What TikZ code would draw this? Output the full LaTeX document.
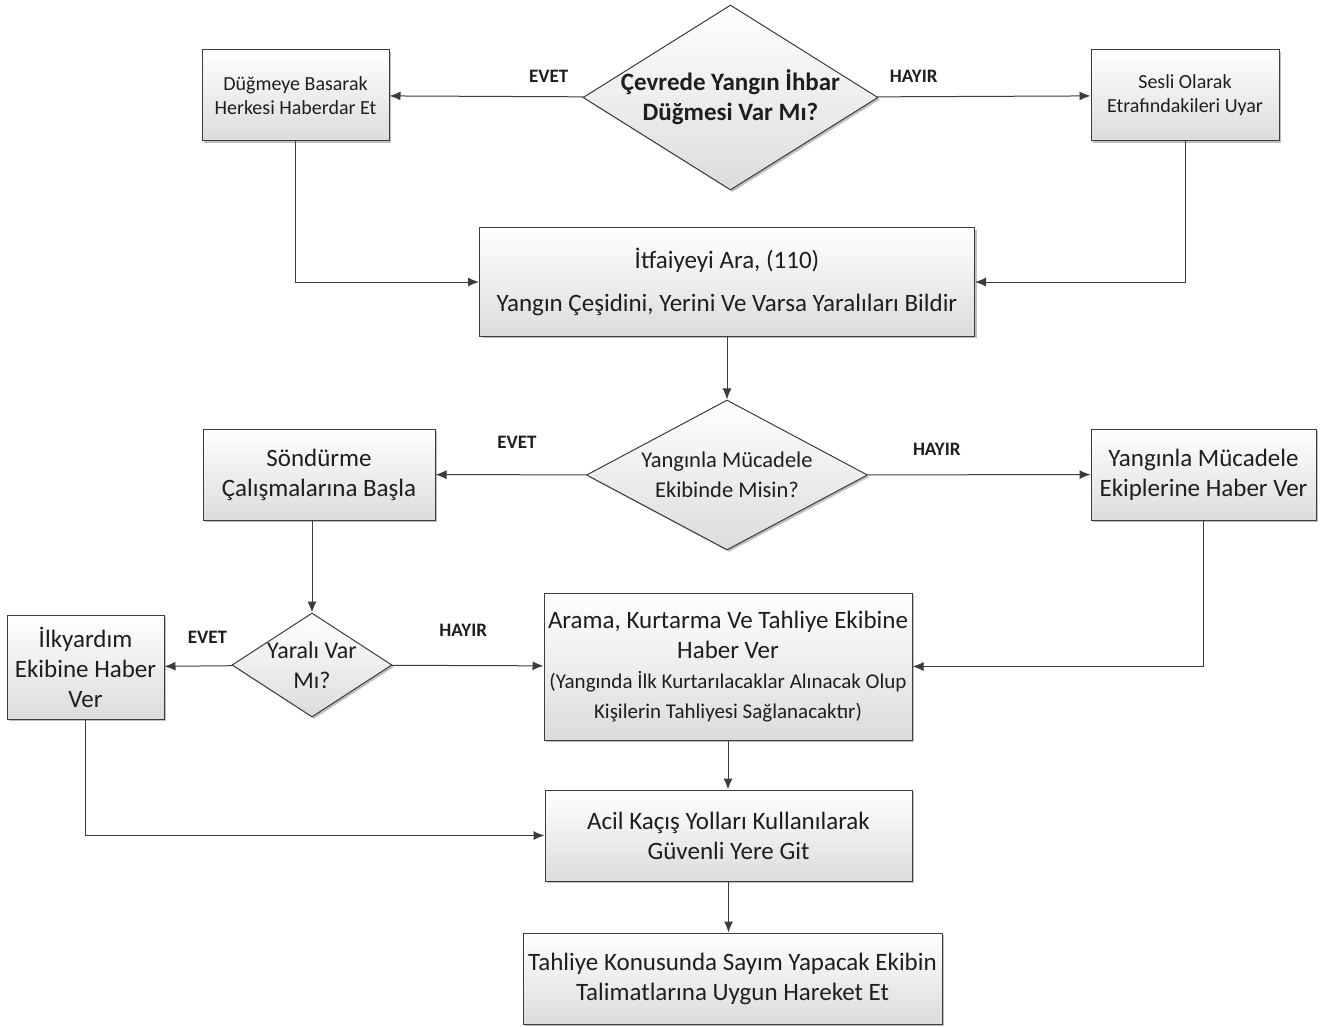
\documentclass[tikz,border=0pt]{standalone}
\usepackage{fontspec}
\setmainfont{Carlito}
\usetikzlibrary{arrows.meta,shapes.geometric,shadows}
\definecolor{flowline}{RGB}{60,60,60}
\definecolor{flowshade}{RGB}{220,220,220}
\definecolor{flowtext}{RGB}{30,30,30}

\begin{document}
\begin{tikzpicture}[
    x=1pt, y=-1pt,
    font=\fontsize{25}{30}\selectfont,
    text=flowtext,
    stage/.style={draw=flowline, line width=1pt, top color=white, bottom color=flowshade,
      align=center, inner sep=0pt,
      drop shadow={shadow xshift=2pt, shadow yshift=-2pt, opacity=0.25, fill=black}},
    query/.style={stage, diamond, inner sep=-4pt},
    answer/.style={font=\fontsize{19}{20}\selectfont\bfseries, inner sep=0pt},
    arrow/.style={-{Latex[length=11pt,width=9pt]}, draw=flowline, line width=1pt}
  ]
    \useasboundingbox (0,0) rectangle (1341,1027);

    % decisions
    \node[query, minimum width=295pt, minimum height=185pt, shape aspect=1.6,
      font=\fontsize{25}{30}\selectfont\bfseries] (alarm) at (730.5,97.5)
      {Çevrede Yangın İhbar\\Düğmesi Var Mı?};
    \node[query, minimum width=281pt, minimum height=150pt, shape aspect=1.87,
      font=\fontsize{22.5}{30}\selectfont] (crew) at (727,475)
      {Yangınla Mücadele\\Ekibinde Misin?};
    \node[query, minimum width=160pt, minimum height=104pt, shape aspect=1.54,
      font=\fontsize{24}{30}\selectfont] (hurt) at (312,665)
      {Yaralı Var\\Mı?};

    % actions
    \node[stage, minimum width=187pt, minimum height=91pt,
      font=\fontsize{20}{24}\selectfont] (press) at (295.5,95.5)
      {Düğmeye Basarak\\Herkesi Haberdar Et};
    \node[stage, minimum width=188pt, minimum height=91pt,
      font=\fontsize{20}{24}\selectfont] (shout) at (1185,95.5)
      {Sesli Olarak\\Etrafındakileri Uyar};
    \node[stage, minimum width=495pt, minimum height=108pt] (call) at (727,282)
      {İtfaiyeyi Ara, (110)\\[13pt]Yangın Çeşidini, Yerini Ve Varsa Yaralıları Bildir};
    \node[stage, minimum width=232pt, minimum height=91pt] (douse) at (319,474.5)
      {Söndürme\\Çalışmalarına Başla};
    \node[stage, minimum width=225pt, minimum height=91pt] (notify) at (1203.5,474.5)
      {Yangınla Mücadele\\Ekiplerine Haber Ver};
    \node[stage, minimum width=157pt, minimum height=104pt] (aid) at (85.5,667)
      {İlkyardım\\Ekibine Haber\\Ver};
    \node[stage, minimum width=368pt, minimum height=147pt] (rescue) at (728,666.5)
      {Arama, Kurtarma Ve Tahliye Ekibine\\Haber Ver\\
       {\fontsize{21}{29}\selectfont (Yangında İlk Kurtarılacaklar Alınacak Olup}\\
       {\fontsize{21}{29}\selectfont Kişilerin Tahliyesi Sağlanacaktır)}};
    \node[stage, minimum width=367pt, minimum height=91pt] (escape) at (728.5,835.5)
      {Acil Kaçış Yolları Kullanılarak\\Güvenli Yere Git};
    \node[stage, minimum width=419pt, minimum height=91pt] (count) at (732.5,978.5)
      {Tahliye Konusunda Sayım Yapacak Ekibin\\Talimatlarına Uygun Hareket Et};

    % connectors
    \draw[arrow] (alarm) -- node[answer, pos=0.18, above=14pt] {EVET} (press);
    \draw[arrow] (alarm) -- node[answer, pos=0.17, above=14pt] {HAYIR} (shout);
    \draw[arrow] (press.south) |- (call.west);
    \draw[arrow] (shout.south) |- (call.east);
    \draw[arrow] (call) -- (crew);
    \draw[arrow] (crew) -- node[answer, pos=0.46, above=26pt] {EVET} (douse);
    \draw[arrow] (crew) -- node[answer, pos=0.31, above=19pt] {HAYIR} (notify);
    \draw[arrow] (douse.south -| hurt.north) -- (hurt.north);
    \draw[arrow] (hurt) -- node[answer, pos=0.37, above=22pt] {EVET} (aid);
    \draw[arrow] (hurt) -- node[answer, pos=0.47, above=29pt] {HAYIR} (rescue);
    \draw[arrow] (notify.south) |- (rescue.east);
    \draw[arrow] (rescue.south) -- (rescue.south |- escape.north);
    \draw[arrow] (aid.south) |- (escape.west);
    \draw[arrow] (escape.south) -- (escape.south |- count.north);
  \end{tikzpicture}
\end{document}
